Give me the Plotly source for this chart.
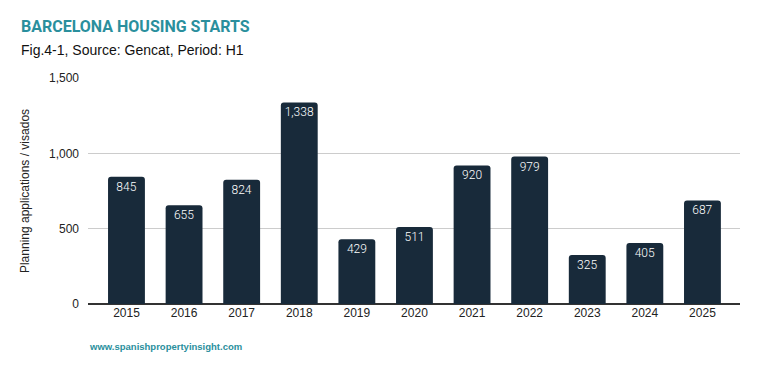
import plotly.graph_objects as go

years = ["2015", "2016", "2017", "2018", "2019", "2020", "2021", "2022", "2023", "2024", "2025"]
values = [845, 655, 824, 1338, 429, 511, 920, 979, 325, 405, 687]
labels = [f"{v:,}" for v in values]

BAR = "#182a3a"
TEAL = "#2a8f9d"
FONT = "Roboto, Arial, sans-serif"
ARIAL = "Arial, Liberation Sans, sans-serif"

fig = go.Figure(go.Bar(
    x=years, y=values, text=labels,
    textposition="inside", insidetextanchor="end",
    textfont=dict(color="white", size=12, family=FONT, weight=300),
    marker=dict(color=BAR, cornerradius=3, line=dict(width=0)),
    width=0.64, hoverinfo="skip",
))

fig.update_layout(
    width=759, height=371,
    margin=dict(l=88, r=19, t=78, b=67),
    paper_bgcolor="white", plot_bgcolor="white",
    font=dict(family=ARIAL, size=12, color="#222"),
    showlegend=False,
    xaxis=dict(type="category", range=[-0.668, 10.652], showgrid=False,
               ticks="", tickfont=dict(size=12, color="#222", family=ARIAL), showline=False),
    yaxis=dict(range=[0, 1500], tickvals=[0, 500, 1000, 1500], tickformat=",",
               gridcolor="#cccccc", gridwidth=1, zeroline=True, zerolinecolor="#333333",
               zerolinewidth=1.5, ticks="", ticklabelstandoff=8,
               tickfont=dict(size=12, color="#222", family=ARIAL),
               title=dict(text="Planning applications / visados", font=dict(size=12, color="#222", family=ARIAL), standoff=16)),
)

pw = 759 - 88 - 19
ph = 371 - 78 - 67
def px(x, y):
    return (x - 88) / pw, (371 - y - 67) / ph

for text, (x, y), size, color, fam in [
    ("<b>BARCELONA HOUSING STARTS</b>", (19, 27), 16, TEAL, FONT),
    ("Fig.4-1, Source: Gencat, Period: H1", (19, 50), 14, "#111", ARIAL),
    ("<b>www.spanishpropertyinsight.com</b>", (87, 346), 9.5, TEAL, ARIAL),
]:
    ax, ay = px(x, y)
    fig.add_annotation(text=text, x=ax, y=ay, xref="paper", yref="paper", showarrow=False,
                       xanchor="left", yanchor="middle", font=dict(size=size, color=color, family=fam))

fig.write_html("out.html", config={"displayModeBar": False},
               post_script="document.body.style.margin='0';")
